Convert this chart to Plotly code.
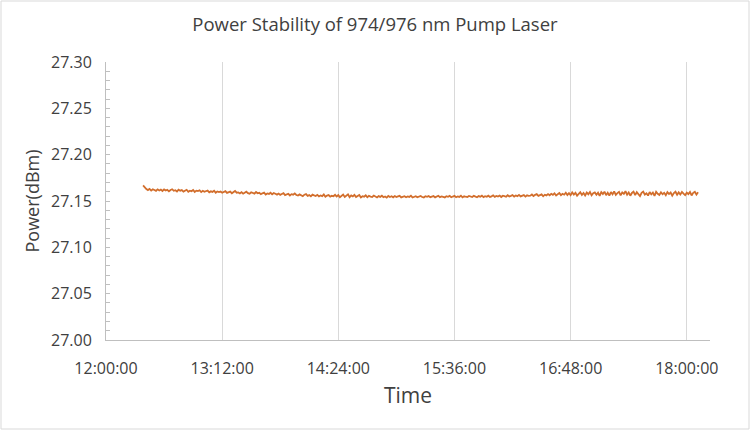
import pandas as pd
import plotly.graph_objects as go

title_text = "Power Stability of 974/976 nm Pump Laser"
x_title = "Time"
y_title = "Power(dBm)"
start_time = "2024-01-01 12:23:00"

power_dbm = [
    27.1668, 27.1641, 27.1629, 27.1618, 27.1631, 27.1612, 27.1627, 27.1619, 27.1609, 27.1626, 27.1614, 27.1623,
    27.1608, 27.1625, 27.1613, 27.1621, 27.1604, 27.1619, 27.1627, 27.1610, 27.1616, 27.1603, 27.1622, 27.1611,
    27.1618, 27.1602, 27.1614, 27.1621, 27.1600, 27.1611, 27.1605, 27.1619, 27.1598, 27.1612, 27.1607, 27.1616,
    27.1596, 27.1610, 27.1599, 27.1607, 27.1613, 27.1594, 27.1604, 27.1598, 27.1611, 27.1590, 27.1603, 27.1597,
    27.1602, 27.1589, 27.1598, 27.1606, 27.1587, 27.1595, 27.1601, 27.1584, 27.1598, 27.1609, 27.1590, 27.1593,
    27.1582, 27.1596, 27.1579, 27.1591, 27.1600, 27.1585, 27.1578, 27.1594, 27.1587, 27.1580, 27.1597, 27.1583,
    27.1588, 27.1574, 27.1583, 27.1591, 27.1570, 27.1581, 27.1576, 27.1589, 27.1572, 27.1585, 27.1578, 27.1569,
    27.1580, 27.1566, 27.1575, 27.1584, 27.1563, 27.1571, 27.1578, 27.1560, 27.1574, 27.1568, 27.1581, 27.1565,
    27.1559, 27.1571, 27.1562, 27.1552, 27.1568, 27.1575, 27.1556, 27.1564, 27.1550, 27.1569, 27.1561, 27.1554,
    27.1566, 27.1549, 27.1560, 27.1553, 27.1570, 27.1545, 27.1558, 27.1564, 27.1547, 27.1556, 27.1551, 27.1567,
    27.1548, 27.1563, 27.1540, 27.1558, 27.1569, 27.1544, 27.1555, 27.1572, 27.1541, 27.1560, 27.1549, 27.1566,
    27.1543, 27.1558, 27.1565, 27.1539, 27.1552, 27.1547, 27.1561, 27.1540, 27.1555, 27.1548, 27.1544, 27.1559,
    27.1546, 27.1538, 27.1553, 27.1544, 27.1557, 27.1541, 27.1549, 27.1536, 27.1555, 27.1543, 27.1551, 27.1540,
    27.1553, 27.1542, 27.1549, 27.1556, 27.1539, 27.1547, 27.1552, 27.1541, 27.1550, 27.1544, 27.1557, 27.1538,
    27.1546, 27.1552, 27.1540, 27.1549, 27.1555, 27.1543, 27.1537, 27.1551, 27.1545, 27.1554, 27.1541, 27.1548,
    27.1553, 27.1539, 27.1547, 27.1556, 27.1542, 27.1550, 27.1544, 27.1538, 27.1552, 27.1546, 27.1555, 27.1540,
    27.1548, 27.1555, 27.1541, 27.1550, 27.1544, 27.1557, 27.1539, 27.1551, 27.1546, 27.1542, 27.1554, 27.1547,
    27.1543, 27.1556, 27.1549, 27.1540, 27.1553, 27.1547, 27.1558, 27.1542, 27.1551, 27.1545, 27.1557, 27.1544,
    27.1550, 27.1561, 27.1545, 27.1555, 27.1548, 27.1559, 27.1543, 27.1557, 27.1552, 27.1546, 27.1562, 27.1549,
    27.1555, 27.1564, 27.1548, 27.1560, 27.1552, 27.1566, 27.1550, 27.1559, 27.1563, 27.1547, 27.1561, 27.1556,
    27.1558, 27.1570, 27.1553, 27.1566, 27.1574, 27.1555, 27.1564, 27.1572, 27.1551, 27.1568, 27.1560, 27.1575,
    27.1562, 27.1577, 27.1566, 27.1583, 27.1559, 27.1572, 27.1586, 27.1563, 27.1578, 27.1568, 27.1590, 27.1565,
    27.1584, 27.1562, 27.1593, 27.1570, 27.1588, 27.1557, 27.1580, 27.1595, 27.1566, 27.1586, 27.1559, 27.1591,
    27.1573, 27.1598, 27.1561, 27.1584, 27.1592, 27.1567, 27.1589, 27.1555, 27.1596, 27.1576, 27.1601, 27.1563,
    27.1590, 27.1558, 27.1597, 27.1572, 27.1604, 27.1566, 27.1585, 27.1599, 27.1561, 27.1593, 27.1577, 27.1606,
    27.1568, 27.1592, 27.1557, 27.1587, 27.1600, 27.1564, 27.1595, 27.1574, 27.1553, 27.1589, 27.1602, 27.1569,
    27.1584, 27.1559, 27.1597, 27.1571, 27.1590, 27.1556, 27.1599, 27.1578, 27.1565, 27.1594, 27.1573, 27.1588,
    27.1562, 27.1596, 27.1575, 27.1591, 27.1558, 27.1585, 27.1600, 27.1567, 27.1593, 27.1570, 27.1598, 27.1579,
    27.1563, 27.1590, 27.1574, 27.1597, 27.1560, 27.1588, 27.1599, 27.1569, 27.1594,
]

x_tick_vals = ["2024-01-01 12:00:00", "2024-01-01 13:12:00", "2024-01-01 14:24:00",
               "2024-01-01 15:36:00", "2024-01-01 16:48:00", "2024-01-01 18:00:00"]
x_tick_text = ["12:00:00", "13:12:00", "14:24:00", "15:36:00", "16:48:00", "18:00:00"]
x_range = ["2024-01-01 12:00:00", "2024-01-01 18:14:24"]
y_tick_vals = [27.00, 27.05, 27.10, 27.15, 27.20, 27.25, 27.30]
y_range = [27.00, 27.30]

times = pd.date_range(start_time, periods=len(power_dbm), freq="min")

FONT = "Open Sans"
TXT = "#404040"
GRID = "#D9D9D9"
AX = "#BFBFBF"

fig = go.Figure()
fig.add_trace(go.Scatter(x=times, y=power_dbm, mode="lines",
                         line=dict(color="#D26E2C", width=1.8), showlegend=False))

L, R, T, B = 106, 40, 62, 90
W, H = 750, 430
pw, ph = W - L - R, H - T - B

fig.update_layout(
    width=W, height=H,
    margin=dict(l=L, r=R, t=T, b=B),
    paper_bgcolor="white", plot_bgcolor="white",
    font=dict(family=FONT, color=TXT),
    title=dict(text=title_text, xref="container", x=0.5, xanchor="center",
               yref="container", y=1 - 25 / H, yanchor="middle",
               font=dict(size=18.5, family=FONT, color=TXT)),
    xaxis=dict(type="date", range=x_range, tickvals=x_tick_vals, ticktext=x_tick_text,
               showgrid=True, gridcolor=GRID, gridwidth=1,
               showline=True, linecolor=AX, linewidth=1, ticks="",
               ticklabelstandoff=14,
               tickfont=dict(size=16, family=FONT, color=TXT),
               title=dict(text=x_title, font=dict(size=21, family=FONT, color=TXT), standoff=10),
               zeroline=False),
    yaxis=dict(range=y_range, tickvals=y_tick_vals, tickformat=".2f",
               showgrid=False, showline=True, linecolor=AX, linewidth=1,
               ticks="inside", ticklen=4, tickcolor=AX,
               ticklabelstandoff=10,
               minor=dict(dtick=0.01, ticks="inside", ticklen=4, tickcolor=AX, showgrid=False),
               tickfont=dict(size=16, family=FONT, color=TXT),
               title=dict(text=y_title, font=dict(size=18, family=FONT, color=TXT), standoff=6),
               zeroline=False),
)

# outer chart-area border
fig.add_shape(type="rect", xref="paper", yref="paper",
              x0=(1 - L) / pw, x1=(W - 1 - L) / pw,
              y0=-(H - 1 - T - ph) / ph, y1=(ph + T - 1) / ph,
              line=dict(color="#D9D9D9", width=1), fillcolor="rgba(0,0,0,0)", layer="below")

fig.write_html("out.html", config={"displayModeBar": False},
               post_script="document.body.style.margin='0';document.body.style.overflow='hidden';")
